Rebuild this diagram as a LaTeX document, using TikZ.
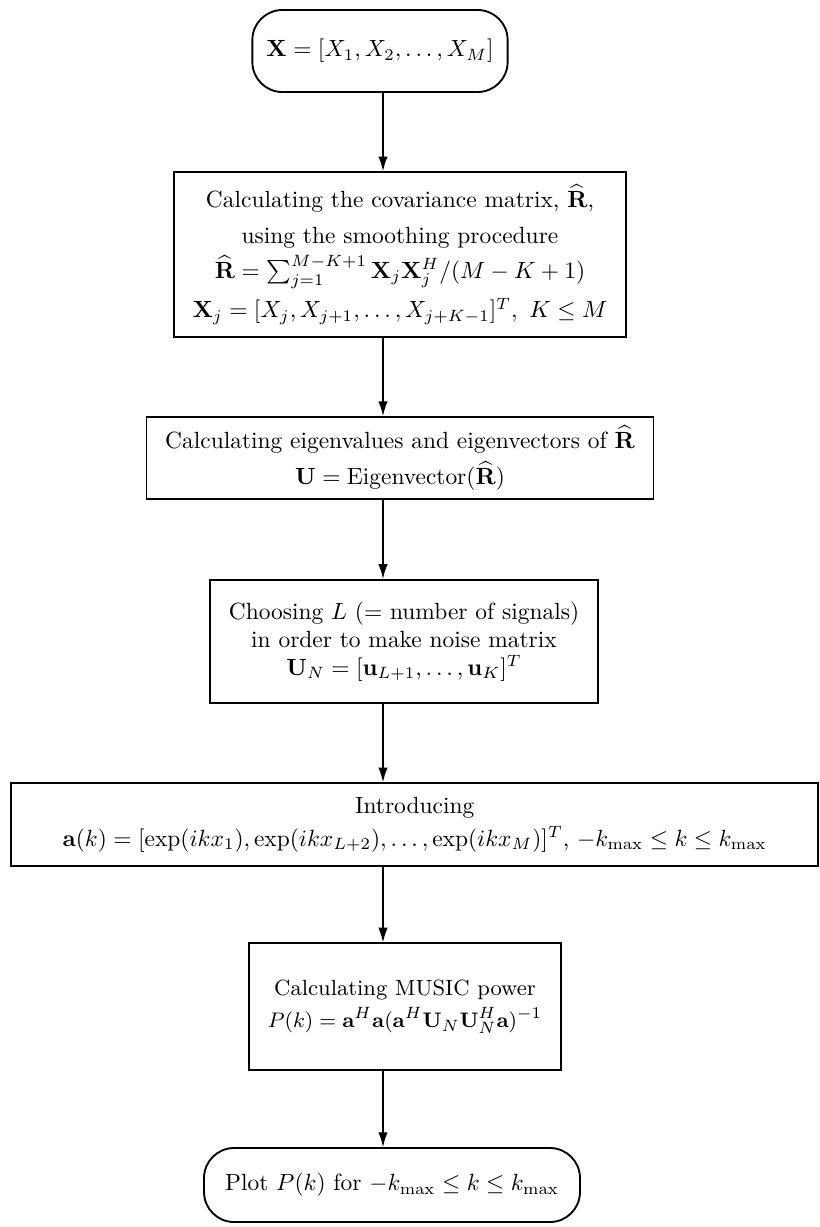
\documentclass[tikz,border=0pt]{standalone}
\usepackage{amsmath}
\usetikzlibrary{arrows.meta}

\begin{document}
\begin{tikzpicture}[
  stepbox/.style={draw,line width=0.8pt,align=center,inner xsep=8pt},
  endbox/.style={draw,line width=0.8pt,align=center,rounded corners=0.45cm,inner xsep=6pt},
  flow/.style={line width=0.6pt,-{Latex[length=2.2mm,width=1.4mm]}}]
\useasboundingbox (0,0) rectangle (12.3,-18.405);

% the arrows all run down this line
\coordinate (axis) at (5.745,0);

% start and stop
\node[endbox,minimum height=1.23cm] (input) at (5.70,-0.765)
  {$\mathbf{X}=[X_1,X_2,\ldots,X_M]$};
\node[endbox,minimum height=1.11cm,inner xsep=9pt] (plot) at (5.88,-17.775)
  {Plot $P(k)$ for $-k_{\max}\le k\le k_{\max}$};

% steps
\node[stepbox,minimum height=2.475cm] (cov) at (6.0,-3.82)
  {Calculating the covariance matrix, $\widehat{\mathbf{R}}$,\\[3pt]
   using the smoothing procedure\\[3pt]
   $\widehat{\mathbf{R}}=\sum_{j=1}^{M-K+1}\mathbf{X}_j\mathbf{X}_j^H/(M-K+1)$\\[3pt]
   $\mathbf{X}_j=[X_j,X_{j+1},\ldots,X_{j+K-1}]^T,\ K\le M$};
\node[stepbox,minimum height=1.23cm] (eig) at (6.0,-6.87)
  {Calculating eigenvalues and eigenvectors of $\widehat{\mathbf{R}}$\\[3pt]
   $\mathbf{U}=\mathrm{Eigenvector}(\widehat{\mathbf{R}})$};
\node[stepbox,minimum height=1.845cm] (noise) at (6.06,-9.62)
  {Choosing $L$ $(=$ number of signals$)$\\
   in order to make noise matrix\\
   $\mathbf{U}_N=[\mathbf{u}_{L+1},\ldots,\mathbf{u}_K]^T$};
\node[stepbox,minimum height=1.245cm,minimum width=12.1cm] (steer) at (6.22,-12.37)
  {Introducing\\[2pt]
   $\mathbf{a}(k)=[\exp(ikx_1),\exp(ikx_{L+2}),\ldots,\exp(ikx_M)]^T$, $-k_{\max}\le k\le k_{\max}$};
\node[stepbox,minimum height=1.9cm,font=\fontsize{9.4}{11.5}\selectfont] (music) at (6.075,-15.1)
  {Calculating MUSIC power\\[2pt]
   $P(k)=\mathbf{a}^H\mathbf{a}(\mathbf{a}^H\mathbf{U}_N\mathbf{U}_N^H\mathbf{a})^{-1}$};

% connectors
\draw[flow] (axis |- input.south) -- (axis |- cov.north);
\draw[flow] (axis |- cov.south) -- (axis |- eig.north);
\draw[flow] (axis |- eig.south) -- (axis |- noise.north);
\draw[flow] (axis |- noise.south) -- (axis |- steer.north);
\draw[flow] (axis |- steer.south) -- (axis |- music.north);
\draw[flow] (axis |- music.south) -- (axis |- plot.north);
\end{tikzpicture}
\end{document}
